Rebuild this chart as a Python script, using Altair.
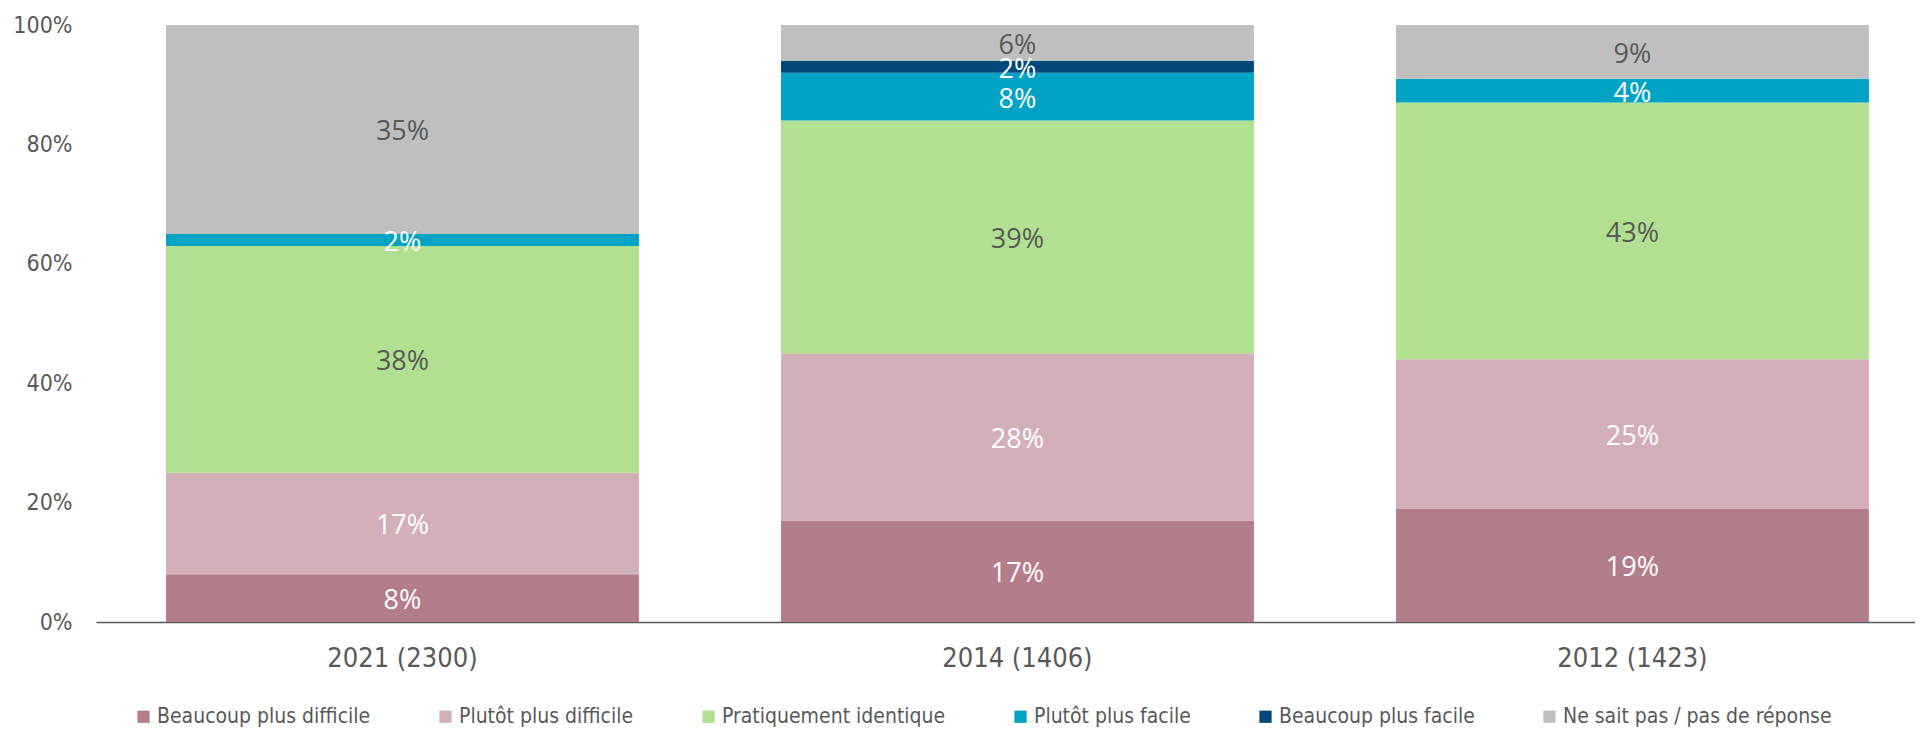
import altair as alt
import pandas as pd

years = ["2021 (2300)", "2014 (1406)", "2012 (1423)"]
categories = [
    "Beaucoup plus difficile",
    "Plutôt plus difficile",
    "Pratiquement identique",
    "Plutôt plus facile",
    "Beaucoup plus facile",
    "Ne sait pas / pas de réponse",
]
colors = ["#B37D89", "#D3AFB8", "#B0E090", "#00A3C4", "#00477A", "#BFBFBF"]
label_colors = ["#FFFFFF", "#FFFFFF", "#595959", "#FFFFFF", "#FFFFFF", "#595959"]
values_2021 = [8, 17, 38, 2, 0, 35]
values_2014 = [17, 28, 39, 8, 2, 6]
values_2012 = [19, 25, 43, 4, 0, 9]

series = [values_2021, values_2014, values_2012]
rows = []
for y, vals in zip(years, series):
    for i, (c, v) in enumerate(zip(categories, vals)):
        rows.append({"year": y, "cat": c, "idx": i, "value": v / 100.0,
                     "lc": label_colors[i]})
df = pd.DataFrame(rows)

W = 1819
H = 597
FONT = "DejaVu Sans Condensed"

x_enc = alt.X(
    "year:N",
    sort=years,
    title=None,
    scale=alt.Scale(paddingInner=0.231, paddingOuter=0.0944, align=0.603),
    axis=alt.Axis(
        labelAngle=0,
        labelFontSize=27,
        labelColor="#595959",
        labelFont=FONT,
        labelPadding=23,
        ticks=False,
        domainColor="#595959",
        domainWidth=1.5,
    ),
)

bars = alt.Chart(df).mark_bar().encode(
    x=x_enc,
    y=alt.Y(
        "value:Q",
        stack="zero",
        scale=alt.Scale(domain=[0, 1], nice=False),
        title=None,
        axis=alt.Axis(
            values=[0, 0.2, 0.4, 0.6, 0.8, 1.0],
            format=".0%",
            labelFontSize=23,
            labelColor="#595959",
            labelFont=FONT,
            labelPadding=24,
            ticks=False,
            domain=False,
            grid=False,
        ),
    ),
    color=alt.Color(
        "cat:N",
        sort=categories,
        scale=alt.Scale(domain=categories, range=colors),
        legend=alt.Legend(
            title=None,
            orient="none",
            legendX=37,
            legendY=H + 84,
            direction="horizontal",
            columns=6,
            columnPadding=64,
            symbolType="square",
            symbolSize=150,
            symbolStrokeWidth=0,
            labelFontSize=21,
            labelFont=FONT,
            labelColor="#595959",
            labelOffset=3,
            labelLimit=0,
        ),
    ),
    order=alt.Order("idx:Q", sort="ascending"),
)

labels = (
    alt.Chart(df)
    .transform_stack(stack="value", groupby=["year"], as_=["v0", "v1"],
                     sort=[alt.SortField("idx", order="ascending")])
    .transform_filter("datum.value > 0")
    .transform_calculate(mid="(datum.v0 + datum.v1) / 2")
    .mark_text(font="Open Sans", fontSize=27, baseline="middle", align="center", dy=3)
    .encode(
        x=alt.X("year:N", sort=years),
        y=alt.Y("mid:Q"),
        text=alt.Text("value:Q", format=".0%"),
        color=alt.Color("lc:N", scale=None),
    )
)

chart = (
    alt.layer(bars, labels)
    .properties(
        width=W,
        height=H,
        autosize=alt.AutoSizeParams(type="none"),
        padding={"left": 88, "top": 17, "right": 0, "bottom": 107},
    )
    .configure_view(stroke=None)
)

chart.save("out.html", embed_options={"renderer": "svg", "actions": False})
